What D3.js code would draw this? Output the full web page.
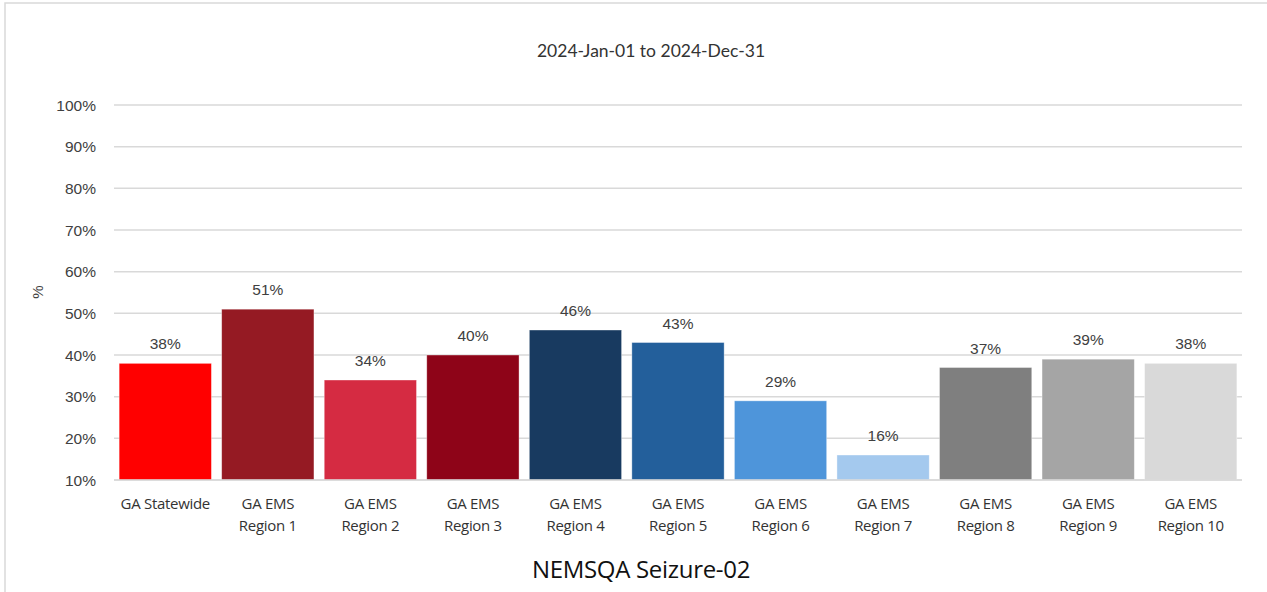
<!DOCTYPE html>
<html>
<head>
<meta charset="utf-8">
<script src="https://cdn.jsdelivr.net/npm/d3@7"></script>
<style>
  html, body { margin: 0; padding: 0; background: #fff; }
  svg { display: block; }
</style>
</head>
<body>
<svg id="chart" width="1267" height="592"></svg>
<script>
const categories = ["GA Statewide", "GA EMS Region 1", "GA EMS Region 2", "GA EMS Region 3", "GA EMS Region 4", "GA EMS Region 5", "GA EMS Region 6", "GA EMS Region 7", "GA EMS Region 8", "GA EMS Region 9", "GA EMS Region 10"];
const values = [38, 51, 34, 40, 46, 43, 29, 16, 37, 39, 38];
const colors = ["#FF0000", "#951A23", "#D52B42", "#8E0418", "#183A60", "#235F9B", "#4E95DA", "#A4C9EE", "#7F7F7F", "#A5A5A5", "#D9D9D9"];
const yTicks = [10, 20, 30, 40, 50, 60, 70, 80, 90, 100];
const title = "2024-Jan-01 to 2024-Dec-31";
const subtitle = "NEMSQA Seizure-02";
const yLabel = "%";

const svg = d3.select("#chart");
const W = 1267, H = 592;
const m = { left: 114, right: 1242, top: 105, bottom: 480 };

// outer frame
svg.append("rect")
  .attr("x", 5).attr("y", 3).attr("width", W + 10).attr("height", H + 10)
  .attr("fill", "#fff").attr("stroke", "#d9d9d9").attr("stroke-width", 1.5);

const x = d3.scaleBand().domain(categories).range([m.left, m.right]).paddingInner(0.1).paddingOuter(0.05);
const y = d3.scaleLinear().domain([10, 100]).range([m.bottom, m.top]);

// gridlines
svg.append("g").selectAll("line").data(yTicks).join("line")
  .attr("x1", m.left).attr("x2", m.right)
  .attr("y1", d => y(d)).attr("y2", d => y(d))
  .attr("stroke", "#d9d9d9").attr("stroke-width", 1.5);

// y axis labels
const yAxis = d3.axisLeft(y).tickValues(yTicks).tickFormat(d => d + "%").tickSize(0).tickPadding(18);
const ya = svg.append("g").attr("transform", `translate(${m.left},0)`).call(yAxis);
ya.select(".domain").remove();
ya.selectAll("text")
  .attr("font-family", "'Liberation Sans', Arial, sans-serif")
  .attr("font-size", 15.5).attr("fill", "#404040").attr("dy", "0.33em");

// bars
svg.append("g").selectAll("rect").data(categories).join("rect")
  .attr("x", d => x(d))
  .attr("width", x.bandwidth())
  .attr("y", (d, i) => y(values[i]))
  .attr("height", (d, i) => y(10) - y(values[i]))
  .attr("fill", (d, i) => colors[i])
  .attr("stroke", "#ffffff").attr("stroke-opacity", 0.5).attr("stroke-width", 0.75);

// baseline
svg.append("line")
  .attr("x1", m.left).attr("x2", m.right)
  .attr("y1", y(10)).attr("y2", y(10))
  .attr("stroke", "#d9d9d9").attr("stroke-width", 1.5);

// value labels
svg.append("g").selectAll("text").data(categories).join("text")
  .attr("x", d => x(d) + x.bandwidth() / 2)
  .attr("y", (d, i) => y(values[i]) - 14)
  .attr("text-anchor", "middle")
  .attr("font-family", "'Liberation Sans', Arial, sans-serif")
  .attr("font-size", 15.5).attr("fill", "#404040")
  .text((d, i) => values[i] + "%");

// x labels
const xl = svg.append("g").selectAll("text").data(categories).join("text")
  .attr("text-anchor", "middle")
  .attr("font-family", "'Open Sans', sans-serif")
  .attr("font-size", 15).attr("fill", "#333333")
  .attr("transform", d => `translate(${x(d) + x.bandwidth() / 2},509)`);
xl.each(function(d) {
  const t = d3.select(this);
  let lines;
  if (d.startsWith("GA EMS ")) lines = ["GA EMS", d.slice(7)];
  else lines = [d];
  lines.forEach((ln, j) => {
    t.append("tspan").attr("x", 0).attr("y", j * 22).attr("letter-spacing", -0.3).text(ln);
  });
});

// title
svg.append("text")
  .attr("x", 651).attr("y", 57)
  .attr("text-anchor", "middle")
  .attr("font-family", "Lato, sans-serif")
  .attr("font-size", 17.5).attr("fill", "#333333")
  .text(title);

// bottom title
svg.append("text")
  .attr("x", 641).attr("y", 578)
  .attr("text-anchor", "middle")
  .attr("font-family", "'Open Sans', sans-serif")
  .attr("font-size", 24).attr("fill", "#111111")
  .attr("letter-spacing", -0.3)
  .text(subtitle);

// y label
svg.append("text")
  .attr("transform", "translate(43,292) rotate(-90)")
  .attr("text-anchor", "middle")
  .attr("font-family", "'Liberation Sans', Arial, sans-serif")
  .attr("font-size", 15).attr("fill", "#404040")
  .text(yLabel);
</script>
</body>
</html>
